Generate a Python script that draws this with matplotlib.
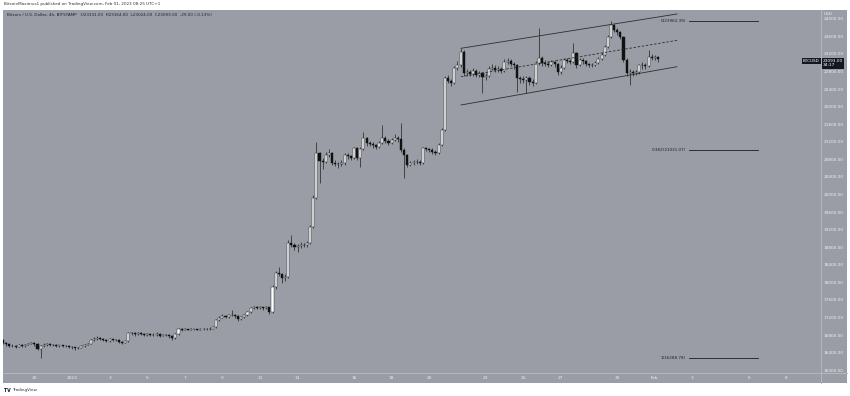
import matplotlib.pyplot as plt
from matplotlib.lines import Line2D
import numpy as np
import pandas as pd

W, H = 850, 396

# BTCUSD 4h candles (Bitstamp)
opens = [
    16700, 16640, 16600, 16560, 16570, 16550, 16580, 16560, 16590, 16610,
    16630, 16600, 16500, 16570, 16590, 16600, 16585, 16580, 16560, 16575,
    16555, 16570, 16540, 16530, 16510, 16525, 16560, 16590, 16610, 16690,
    16720, 16740, 16720, 16700, 16680, 16710, 16700, 16690, 16660, 16640,
    16670, 16860, 16850, 16830, 16850, 16840, 16820, 16830, 16810, 16820,
    16840, 16800, 16820, 16810, 16790, 16745, 16840, 16950, 16930, 16940,
    16935, 16945, 16940, 16935, 16945, 16950, 16940, 16960, 16990, 17150,
    17210, 17240, 17230, 17260, 17270, 17240, 17170, 17220, 17260, 17330,
    17420, 17440, 17430, 17440, 17420, 17440, 17340, 17900, 18220, 18200,
    18120, 18140, 18900, 18870, 18820, 18840, 18870, 18850, 18900, 19270,
    19930, 20950, 20780, 20760, 20900, 20950, 20730, 20710, 20700, 20720,
    20900, 20880, 20850, 21070, 20850, 21050, 21300, 21180, 21160, 21140,
    21100, 21180, 21300, 21240, 21190, 21250, 21300, 21280, 21030, 20900,
    20690, 20720, 20740, 20760, 20730, 21060, 21050, 21030, 20990, 20960,
    21140, 21480, 22660, 22600, 22560, 22890, 22960, 23260, 22780, 22800,
    22760, 22820, 22740, 22770, 22690, 22720, 22880, 22900, 22850, 22880,
    22830, 23030, 23060, 22990, 22950, 22660, 22650, 22620, 22660, 22580,
    22560, 23000, 23120, 23000, 22990, 22970, 23020, 22980, 22790, 22900,
    23070, 23050, 23030, 23230, 22960, 23080, 23040, 22980, 22950, 22970,
    23010, 23100, 23190, 23370, 23600, 23870, 23760, 23700, 23600, 23080,
    22780, 22800, 22780, 22800, 22950, 22960, 22940, 23140, 23130, 23131,
]
highs = [
    16720, 16660, 16620, 16600, 16590, 16600, 16600, 16610, 16640, 16660,
    16650, 16620, 16590, 16620, 16630, 16620, 16610, 16600, 16595, 16590,
    16590, 16585, 16560, 16550, 16545, 16580, 16610, 16640, 16720, 16760,
    16780, 16760, 16740, 16720, 16740, 16730, 16720, 16710, 16680, 16700,
    16890, 16890, 16870, 16880, 16870, 16860, 16860, 16850, 16850, 16870,
    16860, 16845, 16840, 16830, 16810, 16860, 16980, 16970, 16965, 16960,
    16965, 16960, 16955, 16965, 16975, 16965, 16985, 17020, 17180, 17250,
    17280, 17270, 17300, 17390, 17290, 17260, 17250, 17290, 17360, 17450,
    17480, 17470, 17470, 17460, 17480, 17460, 17960, 18260, 18360, 18230,
    18200, 18980, 19090, 18900, 18890, 18920, 18900, 18950, 19320, 19990,
    21210, 20990, 20850, 20980, 21050, 20980, 20800, 20760, 20790, 20950,
    20960, 20920, 21100, 21090, 21090, 21440, 21330, 21220, 21200, 21170,
    21240, 21590, 21350, 21280, 21300, 21380, 21340, 21650, 21060, 20930,
    20780, 20800, 20810, 20790, 21100, 21100, 21080, 21060, 21020, 21180,
    21520, 22720, 22740, 22650, 22940, 23050, 23350, 23290, 22880, 22850,
    22900, 22860, 22830, 22800, 22780, 22930, 22990, 22950, 22940, 22920,
    23090, 23130, 23100, 23030, 22980, 22720, 22700, 22720, 22700, 22630,
    23060, 23800, 23170, 23070, 23040, 23080, 23060, 23010, 22950, 23120,
    23110, 23090, 23460, 23260, 23130, 23110, 23070, 23010, 23010, 23060,
    23150, 23250, 23420, 23650, 23962, 23900, 23800, 23740, 23630, 23110,
    22860, 22850, 22850, 22990, 23020, 23000, 23300, 23200, 23190, 23164,
]
lows = [
    16610, 16570, 16530, 16540, 16520, 16535, 16540, 16550, 16575, 16600,
    16560, 16460, 16289, 16550, 16570, 16560, 16555, 16540, 16545, 16535,
    16540, 16515, 16500, 16480, 16490, 16505, 16545, 16575, 16600, 16670,
    16700, 16700, 16670, 16650, 16660, 16680, 16665, 16630, 16600, 16620,
    16660, 16820, 16800, 16810, 16815, 16790, 16800, 16780, 16790, 16800,
    16770, 16780, 16780, 16750, 16700, 16730, 16820, 16900, 16915, 16915,
    16920, 16920, 16915, 16920, 16925, 16915, 16925, 16945, 16975, 17130,
    17190, 17200, 17210, 17240, 17210, 17140, 17150, 17200, 17240, 17310,
    17400, 17400, 17405, 17390, 17400, 17300, 17320, 17870, 18150, 18000,
    18050, 18100, 18810, 18750, 18700, 18800, 18810, 18820, 18880, 19240,
    19900, 20270, 20600, 20720, 20860, 20680, 20650, 20620, 20660, 20690,
    20820, 20800, 20820, 20800, 20640, 21020, 21120, 21110, 21080, 21050,
    21070, 21150, 21190, 21140, 21160, 21220, 21200, 20980, 20390, 20640,
    20650, 20680, 20700, 20690, 20710, 21000, 20990, 20940, 20900, 20940,
    21110, 21450, 22540, 22480, 22530, 22850, 22920, 22700, 22720, 22700,
    22720, 22690, 22690, 22330, 22620, 22690, 22840, 22790, 22800, 22780,
    22800, 22990, 22940, 22880, 22350, 22560, 22540, 22320, 22500, 22480,
    22530, 22960, 22940, 22930, 22910, 22930, 22920, 22740, 22760, 22870,
    23000, 22980, 23000, 22900, 22930, 22990, 22940, 22910, 22920, 22940,
    22980, 23070, 23160, 23340, 23570, 23700, 23640, 23550, 23020, 22700,
    22505, 22720, 22730, 22760, 22880, 22880, 22910, 23080, 23070, 23024,
]
closes = [
    16640, 16600, 16560, 16570, 16550, 16580, 16560, 16590, 16610, 16630,
    16600, 16500, 16570, 16590, 16600, 16585, 16580, 16560, 16575, 16555,
    16570, 16540, 16530, 16510, 16525, 16560, 16590, 16610, 16690, 16720,
    16740, 16720, 16700, 16680, 16710, 16700, 16690, 16660, 16640, 16670,
    16860, 16850, 16830, 16850, 16840, 16820, 16830, 16810, 16820, 16840,
    16800, 16820, 16810, 16790, 16745, 16840, 16950, 16930, 16940, 16935,
    16945, 16940, 16935, 16945, 16950, 16940, 16960, 16990, 17150, 17210,
    17240, 17230, 17260, 17270, 17240, 17170, 17220, 17260, 17330, 17420,
    17440, 17430, 17440, 17420, 17440, 17340, 17900, 18220, 18200, 18120,
    18140, 18900, 18870, 18820, 18840, 18870, 18850, 18900, 19270, 19930,
    20950, 20780, 20760, 20900, 20950, 20730, 20710, 20700, 20720, 20900,
    20880, 20850, 21070, 20850, 21050, 21300, 21180, 21160, 21140, 21100,
    21180, 21300, 21240, 21190, 21250, 21300, 21280, 21030, 20900, 20690,
    20720, 20740, 20760, 20730, 21060, 21050, 21030, 20990, 20960, 21140,
    21480, 22660, 22600, 22560, 22890, 22960, 23260, 22780, 22800, 22760,
    22820, 22740, 22770, 22690, 22720, 22880, 22900, 22850, 22880, 22830,
    23030, 23060, 22990, 22950, 22660, 22650, 22620, 22660, 22580, 22560,
    23000, 23120, 23000, 22990, 22970, 23020, 22980, 22790, 22900, 23070,
    23050, 23030, 23230, 22960, 23080, 23040, 22980, 22950, 22970, 23010,
    23100, 23190, 23370, 23600, 23870, 23760, 23700, 23600, 23080, 22780,
    22800, 22780, 22800, 22950, 22960, 22940, 23140, 23130, 23131, 23093,
]

tick_dates = ["2022-12-30", "2023-01-01", "2023-01-03", "2023-01-05", "2023-01-07",
              "2023-01-09", "2023-01-11", "2023-01-13", "2023-01-16", "2023-01-18",
              "2023-01-20", "2023-01-23", "2023-01-25", "2023-01-27", "2023-01-30",
              "2023-02-01", "2023-02-03", "2023-02-06", "2023-02-08"]
tick_labels = ["30", "2023", "3", "5", "7", "9", "11", "13", "16", "18", "20",
               "23", "25", "27", "30", "Feb", "3", "6", "8"]
price_ticks = list(range(16000, 24001, 400))

fib_levels = [23962.39, 21031.07, 16288.78]
fib_labels = ["0(23962.39)", "0.382(21031.07)", "1(16288.78)"]
fib_span = ["2023-02-02 19:40", "2023-02-06 11:45"]

channel_span = ["2023-01-21 16:30", "2023-02-02 04:20"]
channel_upper = [23340, 24121]
channel_lower = [22049, 22921]

BG = "#9a9da5"
SEP = "#b4b7bf"
LBL = "#eceef2"
DARK = "#1e222d"

origin = pd.Timestamp("2023-01-01")


def days(ts):
    return (pd.to_datetime(ts) - origin) / pd.Timedelta("1D")


times = pd.date_range("2022-12-28 08:00", periods=len(closes), freq="4h")
x = np.asarray(days(times))
o = np.array(opens, float)
h = np.array(highs, float)
l = np.array(lows, float)
c = np.array(closes, float)


def fx(px):
    return px / W


def fy(py):
    return 1 - py / H


fig = plt.figure(figsize=(W / 100, H / 100), dpi=100, facecolor="white")

# gray panel behind chart + axes strips
panel = fig.add_axes([fx(3), fy(383), fx(847) - fx(3), fy(10) - fy(383)])
panel.set_facecolor(BG)
panel.set_xticks([])
panel.set_yticks([])
for s in panel.spines.values():
    s.set_visible(False)

ax = fig.add_axes([fx(3), fy(373), fx(821) - fx(3), fy(10) - fy(373)])
ax.set_facecolor(BG)
for s in ax.spines.values():
    s.set_visible(False)
ax.set_xticks([])
ax.set_yticks([])
ax.set_xlim(-3.67, 39.84)
ax.set_ylim(15947, 24212)

# candles
up = c >= o
ax.vlines(x, l, h, color="#2b2b2b", linewidth=0.55, zorder=2)
body_lo = np.minimum(o, c)
body_h = np.maximum(np.abs(c - o), 12)
ax.bar(x[up], body_h[up], bottom=body_lo[up], width=0.11, color="white",
       edgecolor="#1a1a1a", linewidth=0.3, zorder=3)
ax.bar(x[~up], body_h[~up], bottom=body_lo[~up], width=0.11, color="#111111",
       edgecolor="#111111", linewidth=0.3, zorder=3)

# parallel channel
cx = days(channel_span)
mid = [(a + b) / 2 for a, b in zip(channel_upper, channel_lower)]
ax.plot(cx, channel_upper, color="#2e2e2e", linewidth=0.6, zorder=4)
ax.plot(cx, channel_lower, color="#2e2e2e", linewidth=0.6, zorder=4)
ax.plot(cx, mid, color="#2e2e2e", linewidth=0.6, linestyle=(0, (3, 2)), zorder=4)

# fib levels
fxs = days(fib_span)
for lev, lab in zip(fib_levels, fib_labels):
    ax.plot(fxs, [lev, lev], color="#2e2e2e", linewidth=0.7, zorder=4)
    ax.text(fxs[0] - 0.15, lev, lab, ha="right", va="center", fontsize=3,
            color=DARK, zorder=5)

# price scale labels
ytr = ax.get_yaxis_transform()
for p in price_ticks:
    ax.text(1.003, p, f"{p:.2f}", transform=ytr, ha="left", va="center",
            fontsize=3.1, color=LBL, clip_on=False)
ax.text(1.003, 24120, "USD", transform=ytr, ha="left", va="center",
        fontsize=3.1, color=LBL, clip_on=False,
        bbox=dict(facecolor=BG, edgecolor="none", pad=0.6))

# time scale labels
xtr = ax.get_xaxis_transform()
for d, lab in zip(days(tick_dates), tick_labels):
    ax.text(d, -0.0135, lab, transform=xtr, ha="center", va="center",
            fontsize=3.1, color=LBL, clip_on=False)

# last price tags
last = c[-1]
ax.text(1.002, last, f"{last:.2f}\n34:17", transform=ytr, ha="left", va="top",
        fontsize=3.1, color="white", clip_on=False, linespacing=1.1,
        bbox=dict(facecolor="#131722", edgecolor="none", pad=0.9))
ax.text(0.9985, last, "BTCUSD", transform=ytr, ha="right", va="top",
        fontsize=3.0, color="white", clip_on=False,
        bbox=dict(facecolor="#131722", edgecolor="none", pad=0.7))

# separators
fig.add_artist(Line2D([fx(3), fx(847)], [fy(373), fy(373)], color=SEP, linewidth=0.7))
fig.add_artist(Line2D([fx(821), fx(821)], [fy(10), fy(383)], color=SEP, linewidth=0.7))

# header / footer
fig.text(fx(4), fy(4.5), "BitcoinMaximus1 published on TradingView.com, Feb 01, 2023 08:25 UTC+1",
         ha="left", va="center", fontsize=3, color="#333333")
fig.text(fx(7), fy(15), "Bitcoin / U.S. Dollar, 4h, BITSTAMP   O23131.00  H23164.00  L23024.00  C23093.00  -29.00 (-0.13%)",
         ha="left", va="center", fontsize=3, color=DARK)
fig.text(fx(4), fy(390), "TV", ha="left", va="center", fontsize=3.3,
         fontweight="bold", color="#131722")
fig.text(fx(12), fy(390), "TradingView", ha="left", va="center", fontsize=3,
         color="#333333")

fig.savefig("out.png", dpi=100, facecolor="white")
